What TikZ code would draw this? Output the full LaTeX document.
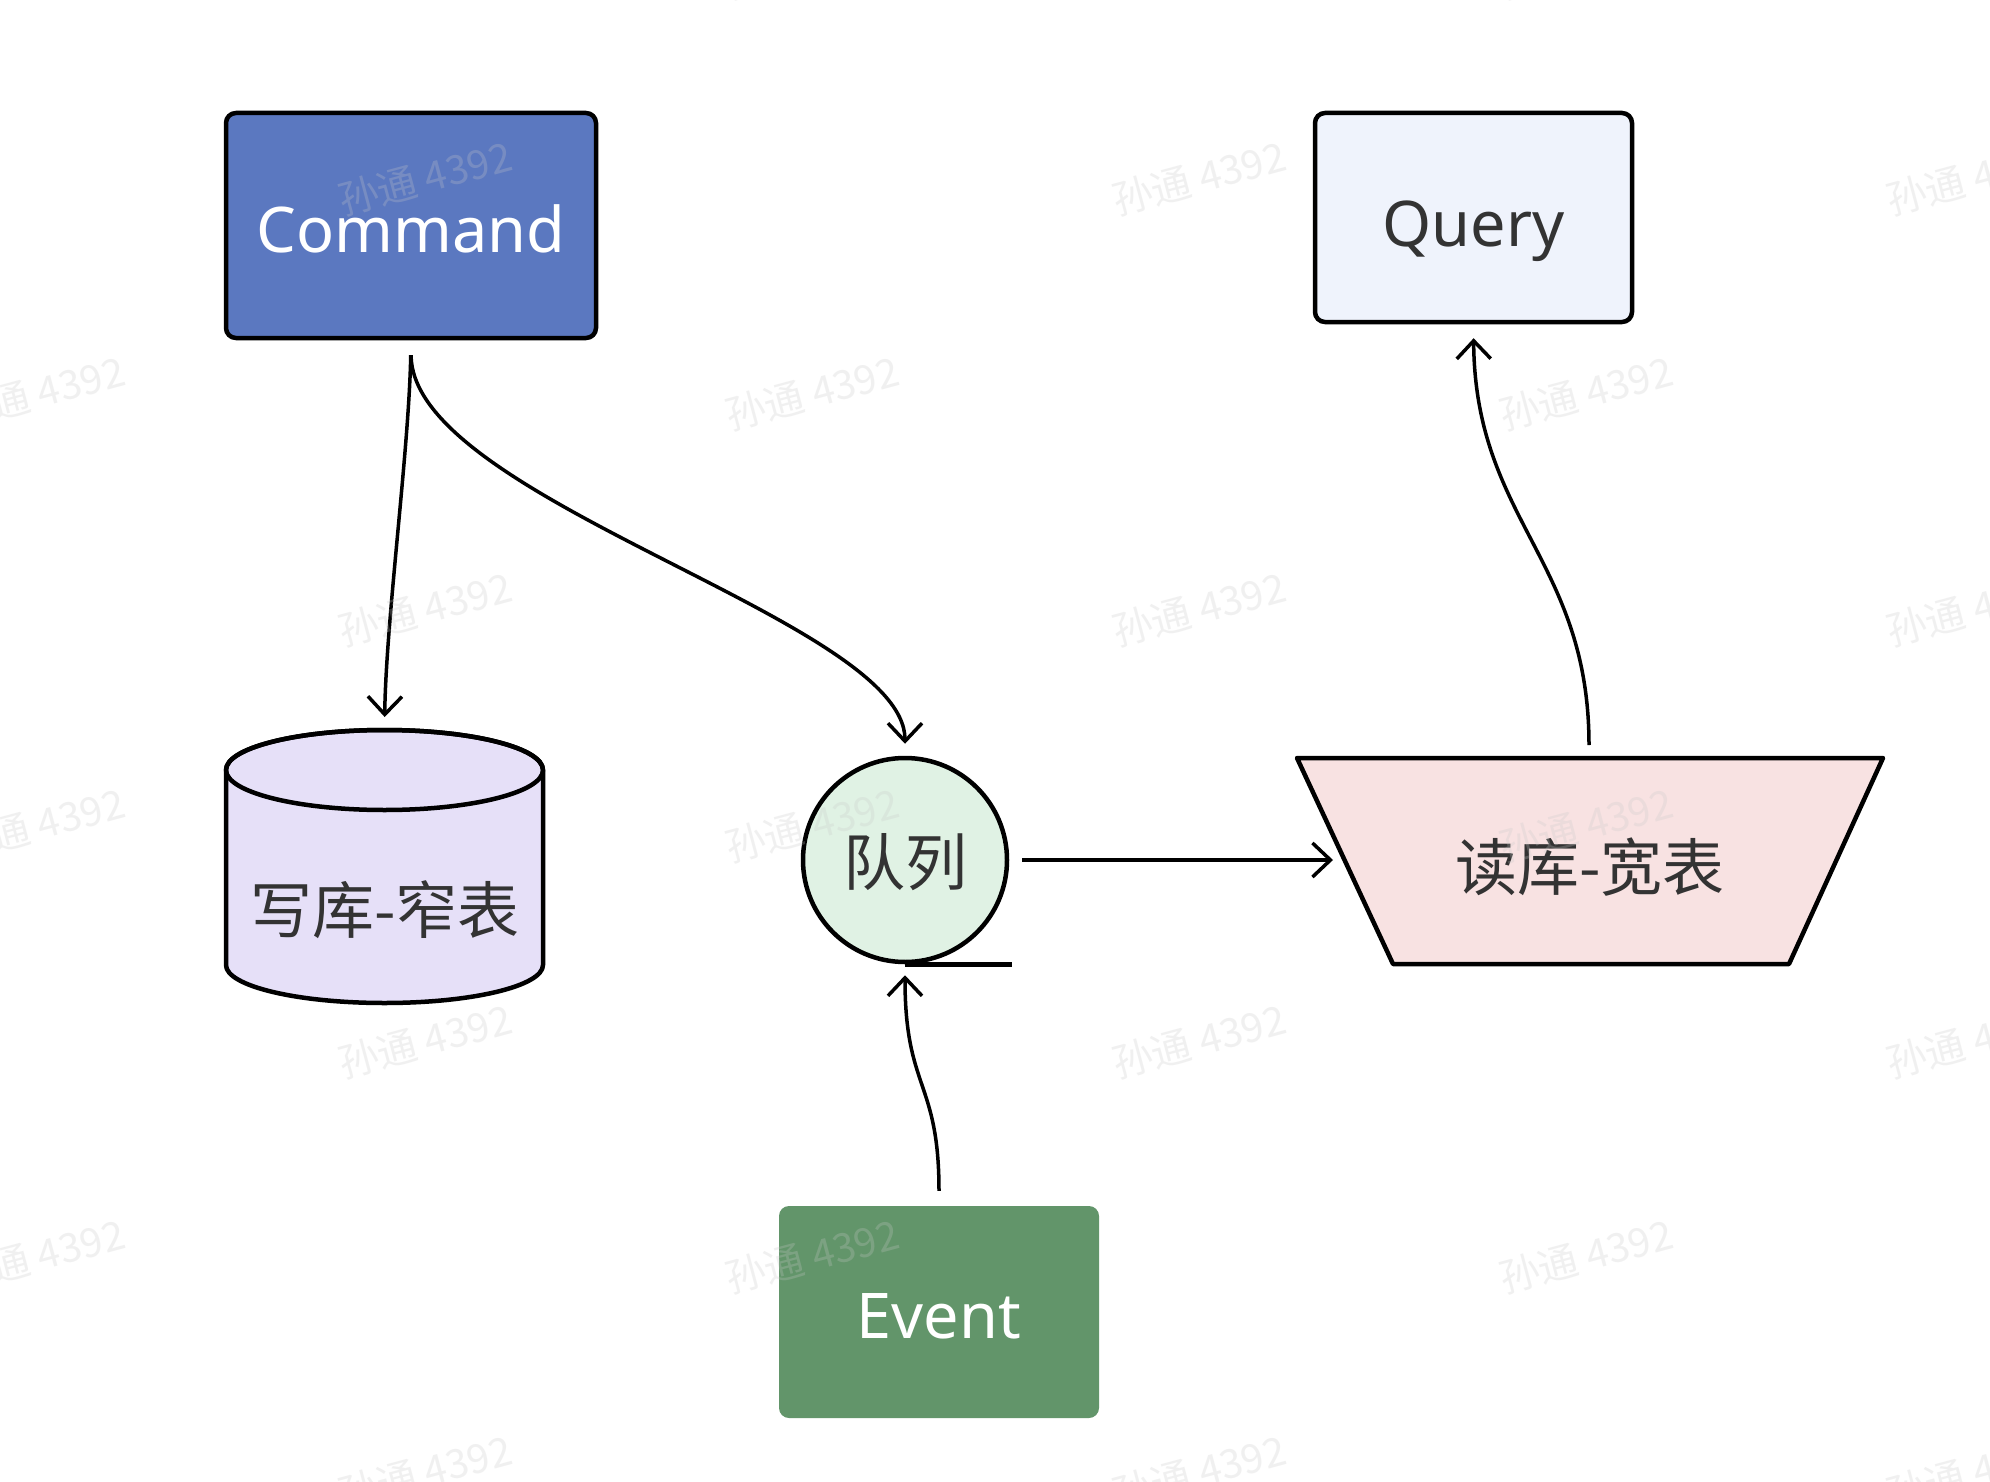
\documentclass[tikz,border=0pt]{standalone}
\usepackage{fontspec}
\setmainfont{Noto Sans}
\newfontfamily\cjk{Noto Sans CJK SC}
\usetikzlibrary{arrows.meta}
\definecolor{cmdblue}{HTML}{5B78C0}
\definecolor{qryfill}{HTML}{EFF3FC}
\definecolor{cylfill}{HTML}{E6E0F8}
\definecolor{quefill}{HTML}{E0F2E4}
\definecolor{trapfill}{HTML}{F8E2E2}
\definecolor{evgreen}{HTML}{62956A}
\definecolor{txtdark}{HTML}{333333}
\definecolor{wmgray}{RGB}{200,200,200}
\newcommand{\lowertext}[2]{\raisebox{-#1}[\height][\depth]{#2}}
\tikzset{
  boxnode/.style={rounded corners=10pt, line width=4.5pt, inner sep=0pt},
  lbl/.style={font=\fontsize{63}{63}\selectfont, text=txtdark},
  cjklbl/.style={font=\cjk\fontsize{62}{62}\selectfont, text=txtdark, inner sep=0pt},
  shapeline/.style={line width=4.5pt, line join=round},
  arr/.style={line width=3.5pt, -{Straight Barb[length=18pt,width=34pt,line width=3.5pt]}},
  wm/.style={font=\cjk\fontsize{40}{40}\selectfont, text=wmgray, text opacity=0.26, rotate=15, inner sep=0pt}
}
\begin{document}
\begin{tikzpicture}[x=1pt,y=1pt]
\useasboundingbox (0,0) rectangle (1990,-1482);
\fill[white] (0,0) rectangle (1990,-1482);

% Command
\node[boxnode, draw=black, fill=cmdblue, minimum width=370pt, minimum height=225pt,
      lbl, text=white] (cmd) at (411,-225.5) {\lowertext{3pt}{Command}};
% Query
\node[boxnode, draw=black, fill=qryfill, minimum width=317pt, minimum height=209pt,
      lbl] (qry) at (1473.5,-217.5) {\lowertext{14pt}{Query}};
% Event
\node[boxnode, draw=none, fill=evgreen, minimum width=320pt, minimum height=212pt,
      lbl, text=white] (ev) at (939,-1312) {\lowertext{4pt}{Event}};

% write database cylinder
\filldraw[shapeline, fill=cylfill] (226,-770) -- (226,-965) arc (180:360:158.5 and 38)
   -- (543,-770) arc (0:180:158.5 and 40) -- cycle;
\draw[shapeline] (384.5,-770) ellipse (158.5 and 40);
\coordinate (wdbtop) at (384.5,-730);
\node[cjklbl] (wdb) at (385,-910) {写库-窄表};

% queue
\node[circle, draw=black, line width=4.5pt, fill=quefill, minimum size=204pt, inner sep=0pt,
      font=\cjk\fontsize{62}{62}\selectfont, text=txtdark] (q) at (905,-860) {\lowertext{2pt}{队列}};
\draw[line width=4.5pt] (q.south) -- ++(107,0);

% read database trapezoid
\filldraw[shapeline, fill=trapfill] (1297,-758) -- (1883,-758) -- (1789,-964) -- (1393,-964) -- cycle;
\node[cjklbl] (rdb) at (1590,-867) {读库-宽表};
\coordinate (rdbL) at (1345,-860);
\coordinate (rdbT) at (1589,-758);

% connectors
\draw[arr, shorten <=15pt, shorten >=13pt] (cmd.south) .. controls (409,-450) and (386,-620) .. (wdbtop);
\draw[arr, shorten <=15pt, shorten >=12pt] (cmd.south) .. controls (412,-500) and (905,-620) .. (q.north);
\draw[arr, shorten <=13pt, shorten >=12pt] (q.east) -- (rdbL);
\draw[arr, shorten <=13pt, shorten >=11pt] (ev.north) .. controls (939,-1080) and (905,-1090) .. (q.south);
\draw[arr, shorten <=13pt, shorten >=14pt] (rdbT) .. controls (1589,-560) and (1475,-520) .. (qry.south);

% watermarks
\foreach \wx in {425,1199,1973}{
  \foreach \wy in {178,609,1041,1472}{
    \node[wm] at (\wx,-\wy) {孙通 4392};
  }
}
\foreach \wx in {38,812,1586}{
  \foreach \wy in {-38,393,825,1256}{
    \node[wm] at (\wx,-\wy) {孙通 4392};
  }
}
\end{tikzpicture}
\end{document}
